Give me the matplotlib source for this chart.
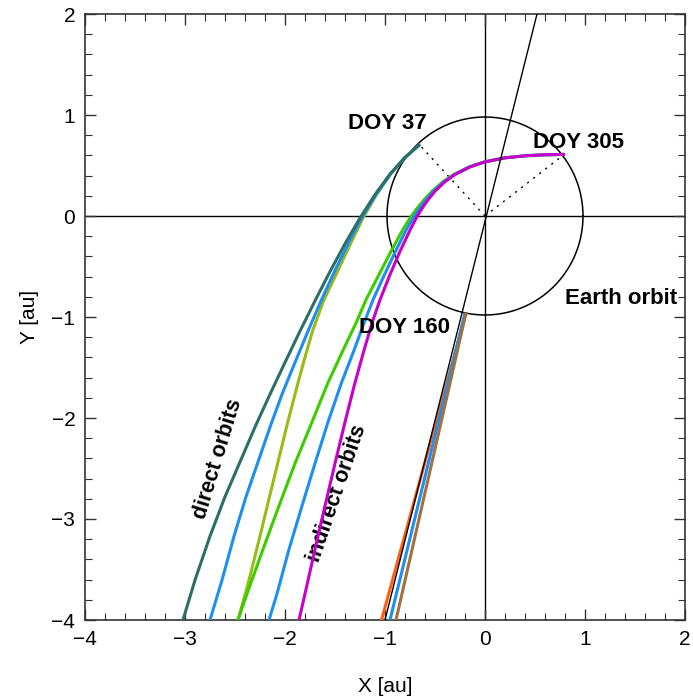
import numpy as np
import matplotlib
matplotlib.use("Agg")
import matplotlib.pyplot as plt

plt.rcParams['font.family'] = ['Liberation Sans', 'DejaVu Sans']

# ---- data (au) ----
direct_teal_x = [-0.65, -0.80, -0.95, -1.10, -1.25, -1.40, -1.55, -1.70, -1.85, -2.00, -2.15, -2.30, -2.45, -2.60, -2.75, -2.90, -3.02]
direct_teal_y = [0.71, 0.58, 0.415, 0.212, -0.02, -0.275, -0.55, -0.84, -1.14, -1.45, -1.765, -2.09, -2.435, -2.78, -3.17, -3.605, -4.00]

direct_blue_x = [-0.65, -0.80, -0.945, -1.09, -1.235, -1.37, -1.505, -1.64, -1.77, -1.90, -2.03, -2.15, -2.27, -2.39, -2.51, -2.63, -2.75]
direct_blue_y = [0.71, 0.58, 0.415, 0.212, -0.02, -0.275, -0.55, -0.84, -1.14, -1.45, -1.765, -2.09, -2.435, -2.78, -3.17, -3.605, -4.00]

direct_olive_x = [-0.65, -0.80, -0.945, -1.085, -1.22, -1.345, -1.475, -1.615, -1.725, -1.815, -1.90, -1.985, -2.07, -2.155, -2.25, -2.36, -2.47]
direct_olive_y = [0.71, 0.58, 0.415, 0.212, -0.02, -0.275, -0.55, -0.84, -1.14, -1.45, -1.765, -2.09, -2.435, -2.78, -3.17, -3.605, -4.00]

indirect_y = [0.61, 0.606, 0.596, 0.576, 0.536, 0.486, 0.41, 0.34, 0.245, 0.16, 0.075, -0.005,
              -0.14, -0.35, -0.58, -0.83, -1.06, -1.33, -1.65, -2.04, -2.45, -2.87, -3.30, -3.74, -4.00]
indirect_mag_x = [0.80, 0.60, 0.40, 0.20, 0.00, -0.15, -0.30, -0.40, -0.50, -0.57, -0.63, -0.68,
                  -0.75, -0.85, -0.95, -1.05, -1.13, -1.21, -1.30, -1.40, -1.50, -1.60, -1.70, -1.80, -1.86]
indirect_blue_x = [0.80, 0.60, 0.40, 0.20, 0.00, -0.155, -0.307, -0.41, -0.515, -0.59, -0.655, -0.71,
                   -0.79, -0.895, -1.005, -1.12, -1.21, -1.31, -1.435, -1.57, -1.70, -1.83, -1.96, -2.08, -2.16]
indirect_green_x = [0.80, 0.60, 0.40, 0.20, -0.005, -0.16, -0.315, -0.42, -0.53, -0.61, -0.68, -0.74,
                    -0.825, -0.94, -1.06, -1.19, -1.29, -1.42, -1.57, -1.73, -1.90, -2.06, -2.22, -2.38, -2.47]

doy160_orange_x = [-0.19, -1.035]
doy160_orange_y = [-0.96, -4.00]
doy160_blue_x = [-0.20, -0.95]
doy160_blue_y = [-0.96, -4.00]
doy160_brown_x = [-0.19, -0.89]
doy160_brown_y = [-0.96, -4.00]

ref_line_x = [-1.00, 0.52]
ref_line_y = [-4.00, 2.00]

doy37_pt = (-0.66, 0.71)
doy305_pt = (0.78, 0.60)
earth_r = 0.98

xticks = [-4, -3, -2, -1, 0, 1, 2]
yticks = [-4, -3, -2, -1, 0, 1, 2]

# ---- figure ----
fig = plt.figure(figsize=(6.93, 7.0), dpi=100)
ax = fig.add_axes([85/693, 80/700, 600/693, 606/700])

lw = 2.2
c_teal = '#2D6E66'
c_blue = '#1E8FF0'
c_olive = '#98BB16'
c_green = '#3CCC00'
c_mag = '#C800C8'
c_orange = '#FF5F0F'
c_brown = '#A5703F'
kw = dict(lw=lw, zorder=3, solid_joinstyle='round', solid_capstyle='butt')

# axes cross lines
ax.axhline(0, color='black', lw=1.0, zorder=1)
ax.axvline(0, color='black', lw=1.0, zorder=1)

# Earth orbit
th = np.linspace(0, 2*np.pi, 400)
ax.plot(earth_r*np.cos(th), earth_r*np.sin(th), color='black', lw=1.1, zorder=1)

# dotted radial lines
ax.plot([0, doy37_pt[0]], [0, doy37_pt[1]], color='black', lw=1.0, ls=(0, (1.5, 4)), zorder=1)
ax.plot([0, doy305_pt[0]], [0, doy305_pt[1]], color='black', lw=1.0, ls=(0, (1.5, 4)), zorder=1)

# texts (under lines)
ax.text(-2.667, -2.41, 'direct orbits', rotation=73, ha='center', va='center',
        fontsize=15.5, fontweight='bold', zorder=2)
ax.text(-1.477, -2.75, 'indirect orbits', rotation=71, ha='center', va='center',
        fontsize=15.5, fontweight='bold', zorder=2)

# direct orbits
ax.plot(direct_olive_x, direct_olive_y, color=c_olive, **kw)
ax.plot(direct_blue_x, direct_blue_y, color=c_blue, **kw)
ax.plot(direct_teal_x, direct_teal_y, color=c_teal, **kw)

# indirect orbits
ax.plot(indirect_green_x, indirect_y, color=c_green, **kw)
ax.plot(indirect_blue_x, indirect_y, color=c_blue, **kw)
ax.plot(indirect_mag_x, indirect_y, color=c_mag, **kw)

# DOY 160 group
ax.plot(doy160_orange_x, doy160_orange_y, color=c_orange, **kw)
ax.plot(doy160_blue_x, doy160_blue_y, color=c_blue, **kw)
ax.plot(doy160_brown_x, doy160_brown_y, color=c_brown, **kw)
ax.plot(ref_line_x, ref_line_y, color='black', lw=1.0, zorder=4)

# labels
ax.text(-0.972, 0.92, 'DOY 37', fontsize=16, fontweight='bold', ha='center', va='center', zorder=5)
ax.text(0.94, 0.73, 'DOY 305', fontsize=16, fontweight='bold', ha='center', va='center', zorder=5)
ax.text(-0.80, -1.10, 'DOY 160', fontsize=16, fontweight='bold', ha='center', va='center', zorder=5)
ax.text(1.36, -0.82, 'Earth orbit', fontsize=16, fontweight='bold', ha='center', va='center', zorder=5)

ax.set_xlim(-4, 2)
ax.set_ylim(-4, 2)
ax.set_xticks(xticks)
ax.set_yticks(yticks)
ax.set_xticklabels([('\u2212%d' % -t) if t < 0 else str(t) for t in xticks])
ax.set_yticklabels([('\u2212%d' % -t) if t < 0 else str(t) for t in yticks])
ax.set_xticks(np.arange(-4, 2.01, 0.2), minor=True)
ax.set_yticks(np.arange(-4, 2.01, 0.2), minor=True)
ax.tick_params(which='both', direction='in', top=True, right=True, color='#333333')
ax.tick_params(which='major', length=8, width=1.0, labelsize=15, pad=7)
ax.tick_params(which='minor', length=5, width=0.8)
for s in ax.spines.values():
    s.set_color('#333333')
    s.set_linewidth(1.2)

ax.set_xlabel('X [au]', fontsize=15, labelpad=20)
ax.set_ylabel('Y [au]', fontsize=15, labelpad=9)

fig.savefig('out.png', dpi=100)
